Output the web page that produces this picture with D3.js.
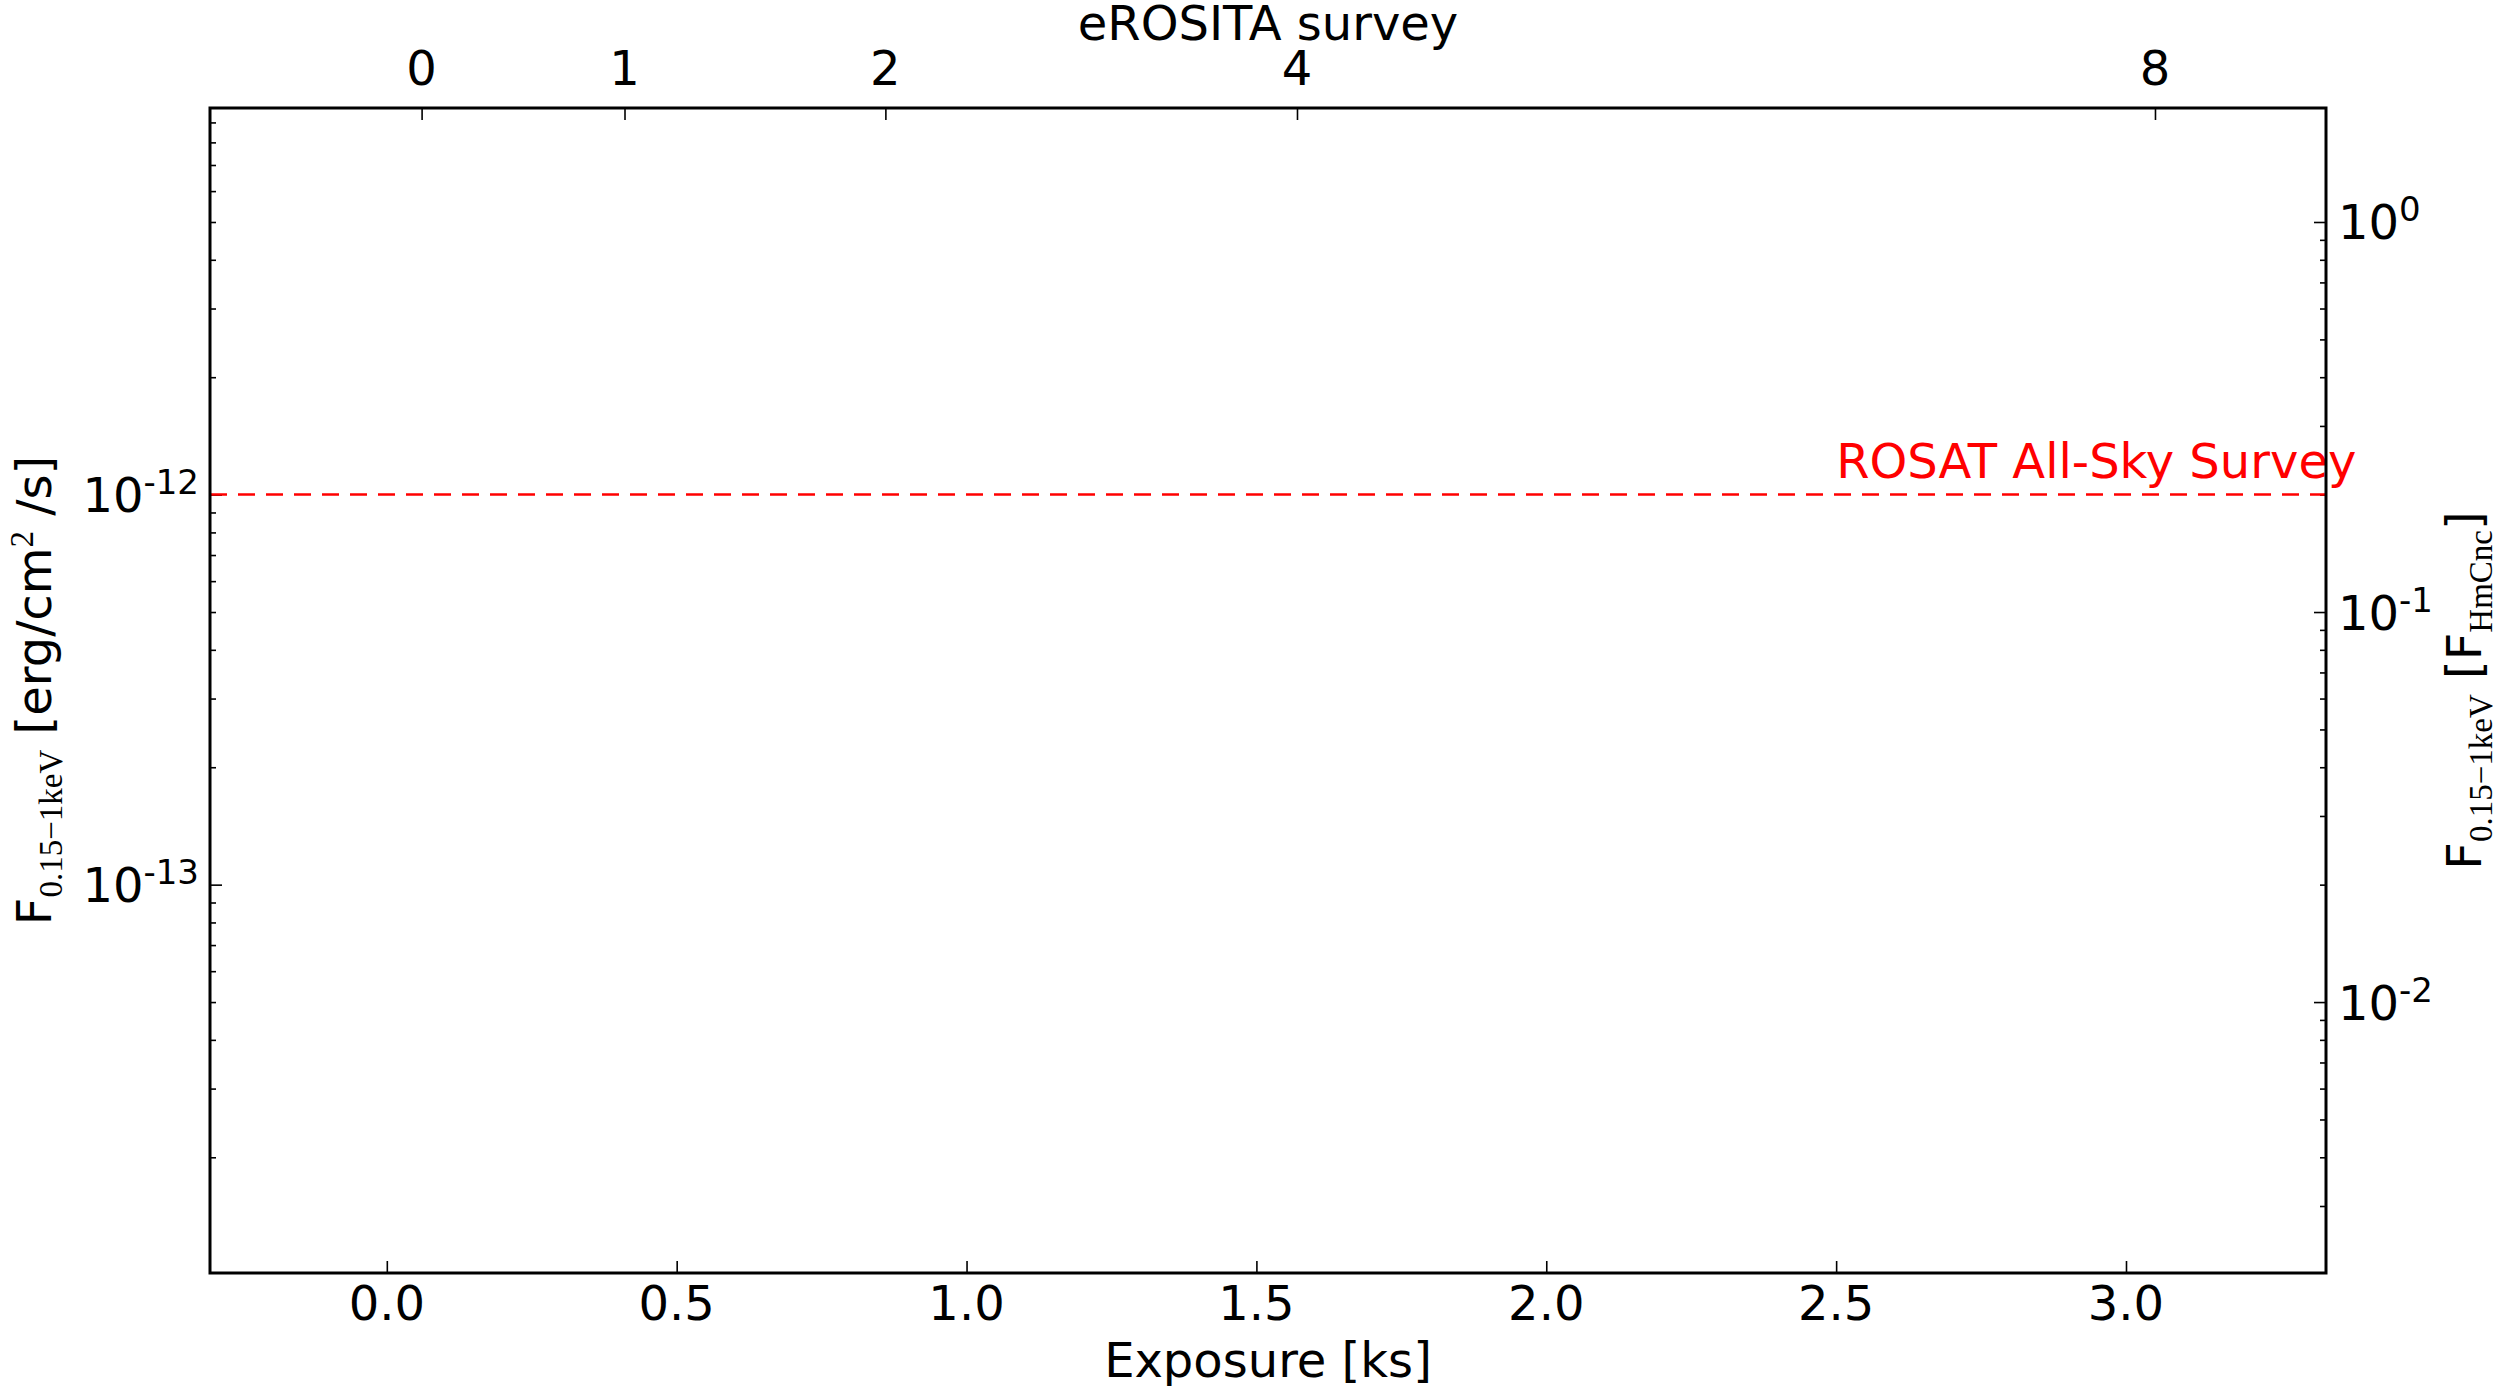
<!DOCTYPE html>
<html>
<head>
<meta charset="utf-8">
<script src="https://cdn.jsdelivr.net/npm/d3@7"></script>
<style>
  html, body { margin: 0; padding: 0; background: #ffffff; }
  svg { display: block; }
  text { font-family: "DejaVu Sans", sans-serif; fill: #000; }
  .serif { font-family: "Liberation Serif", "DejaVu Serif", serif; }
</style>
</head>
<body>
<svg id="chart" width="2494" height="1386"></svg>
<script>
// Exposure axis (bottom) and its tick values in ks
const exposureDomain = [-0.305, 3.345];
const exposureTicks = [0.0, 0.5, 1.0, 1.5, 2.0, 2.5, 3.0];

// eROSITA survey number (top axis) and the exposure where each survey count falls
const surveyLabels = [0, 1, 2, 4, 8];
const surveyExposure = [0.06, 0.41, 0.86, 1.57, 3.05];

// Flux axis (left), erg/cm^2/s
const fluxDomain = [1.01e-14, 9.8e-12];
const fluxMajorExponents = [-13, -12];

// Flux relative to HM Cnc (right axis)
const hmCncFlux = 5e-12;
const relMajorExponents = [-2, -1, 0];

// ROSAT All-Sky Survey sensitivity limit
const rosatLimit = 1e-12;
const rosatLabel = "ROSAT All-Sky Survey";
const rosatLabelPos = [2.5, 1.1e-12];

const svg = d3.select("#chart");
const W = 2494, H = 1386;
const plot = { left: 210, right: 2326, top: 108, bottom: 1273 };

svg.append("rect").attr("width", W).attr("height", H).attr("fill", "#fff");

const x = d3.scaleLinear().domain(exposureDomain).range([plot.left, plot.right]);
const y = d3.scaleLog().domain(fluxDomain).range([plot.bottom, plot.top]);
const yRel = d3.scaleLog()
  .domain([fluxDomain[0] / hmCncFlux, fluxDomain[1] / hmCncFlux])
  .range([plot.bottom, plot.top]);

const FS = 48;       // main font size
const SUB = 34;      // sub/superscript size
const MAJOR = 12, MINOR = 6;

function styleAxis(g) {
  g.select(".domain").remove();
  g.selectAll(".tick line").attr("stroke", "#000").attr("stroke-width", 1.6);
  g.selectAll(".tick text").remove();
}

// minor ticks of a log scale: every k*10^n inside the domain that is not a power of ten
function logMinor(scale) {
  const [a, b] = scale.domain();
  return scale.ticks(30).filter(v => {
    const e = Math.log10(v);
    return Math.abs(e - Math.round(e)) > 1e-6 && v >= a && v <= b;
  });
}

// bottom axis: ticks pointing into the plot
svg.append("g").attr("transform", `translate(0,${plot.bottom})`)
  .call(d3.axisBottom(x).tickValues(exposureTicks).tickSizeInner(-MAJOR).tickSizeOuter(0))
  .call(styleAxis);
svg.append("g").selectAll("text").data(exposureTicks).join("text")
  .attr("x", d => x(d)).attr("y", 1320)
  .attr("text-anchor", "middle").attr("font-size", FS)
  .text(d => d.toFixed(1));

// top axis: survey counts
svg.append("g").attr("transform", `translate(0,${plot.top})`)
  .call(d3.axisTop(x).tickValues(surveyExposure).tickSizeInner(-MAJOR).tickSizeOuter(0))
  .call(styleAxis);
svg.append("g").selectAll("text").data(surveyLabels).join("text")
  .attr("x", (d, i) => x(surveyExposure[i])).attr("y", 85)
  .attr("text-anchor", "middle").attr("font-size", FS)
  .text(d => d);

// left axis: absolute flux
const leftMajor = fluxMajorExponents.map(e => Math.pow(10, e));
svg.append("g").attr("transform", `translate(${plot.left},0)`)
  .call(d3.axisLeft(y).tickValues(leftMajor).tickSizeInner(-MAJOR).tickSizeOuter(0))
  .call(styleAxis);
svg.append("g").attr("transform", `translate(${plot.left},0)`)
  .call(d3.axisLeft(y).tickValues(logMinor(y)).tickSizeInner(-MINOR).tickSizeOuter(0))
  .call(styleAxis);

function powerLabel(g, xPos, yPos, exp, anchor) {
  const t = g.append("text")
    .attr("x", xPos).attr("y", yPos + 17.5)
    .attr("text-anchor", anchor).attr("font-size", FS);
  t.append("tspan").text("10");
  t.append("tspan").attr("font-size", SUB).attr("dy", -18).text(String(exp));
}
const leftLabels = svg.append("g");
fluxMajorExponents.forEach(e => powerLabel(leftLabels, 199, y(Math.pow(10, e)), e, "end"));

// right axis: flux relative to HM Cnc
const relMajor = relMajorExponents.map(e => Math.pow(10, e));
svg.append("g").attr("transform", `translate(${plot.right},0)`)
  .call(d3.axisRight(yRel).tickValues(relMajor).tickSizeInner(-MAJOR).tickSizeOuter(0))
  .call(styleAxis);
svg.append("g").attr("transform", `translate(${plot.right},0)`)
  .call(d3.axisRight(yRel).tickValues(logMinor(yRel)).tickSizeInner(-MINOR).tickSizeOuter(0))
  .call(styleAxis);
const rightLabels = svg.append("g");
relMajorExponents.forEach(e => powerLabel(rightLabels, 2338, yRel(Math.pow(10, e)), e, "start"));

// ROSAT limit
svg.append("line")
  .attr("x1", x(exposureDomain[0])).attr("x2", x(exposureDomain[1]))
  .attr("y1", y(rosatLimit)).attr("y2", y(rosatLimit))
  .attr("stroke", "#ff0000").attr("stroke-width", 2.5)
  .attr("stroke-dasharray", "17,11");
svg.append("text")
  .attr("x", x(rosatLabelPos[0])).attr("y", y(rosatLabelPos[1]))
  .attr("font-size", FS).style("fill", "#ff0000")
  .text(rosatLabel);

// frame
svg.append("rect")
  .attr("x", plot.left).attr("y", plot.top)
  .attr("width", plot.right - plot.left).attr("height", plot.bottom - plot.top)
  .attr("fill", "none").attr("stroke", "#000").attr("stroke-width", 3);

// axis titles
svg.append("text").attr("x", (plot.left + plot.right) / 2).attr("y", 1377)
  .attr("text-anchor", "middle").attr("font-size", FS).text("Exposure [ks]");
svg.append("text").attr("x", (plot.left + plot.right) / 2).attr("y", 40)
  .attr("text-anchor", "middle").attr("font-size", FS).text("eROSITA survey");

function fluxTitle(xPos, parts) {
  const cy = (plot.top + plot.bottom) / 2;
  const t = svg.append("text")
    .attr("transform", `translate(${xPos},${cy}) rotate(-90)`)
    .attr("text-anchor", "middle").attr("font-size", FS);
  parts.forEach(p => {
    const s = t.append("tspan").text(p.text);
    if (p.serif) s.attr("class", "serif").attr("font-size", SUB - 1);
    if (p.dy) s.attr("dy", p.dy);
  });
}
fluxTitle(51, [
  { text: "F" },
  { text: "0.15\u22121keV", serif: true, dy: 11 },
  { text: " [erg/cm", dy: -11 },
  { text: "2", serif: true, dy: -18 },
  { text: " /s]", dy: 18 }
]);
fluxTitle(2481, [
  { text: "F" },
  { text: "0.15\u22121keV", serif: true, dy: 11 },
  { text: " [F", dy: -11 },
  { text: "HmCnc", serif: true, dy: 11 },
  { text: "]", dy: -11 }
]);
</script>
</body>
</html>
